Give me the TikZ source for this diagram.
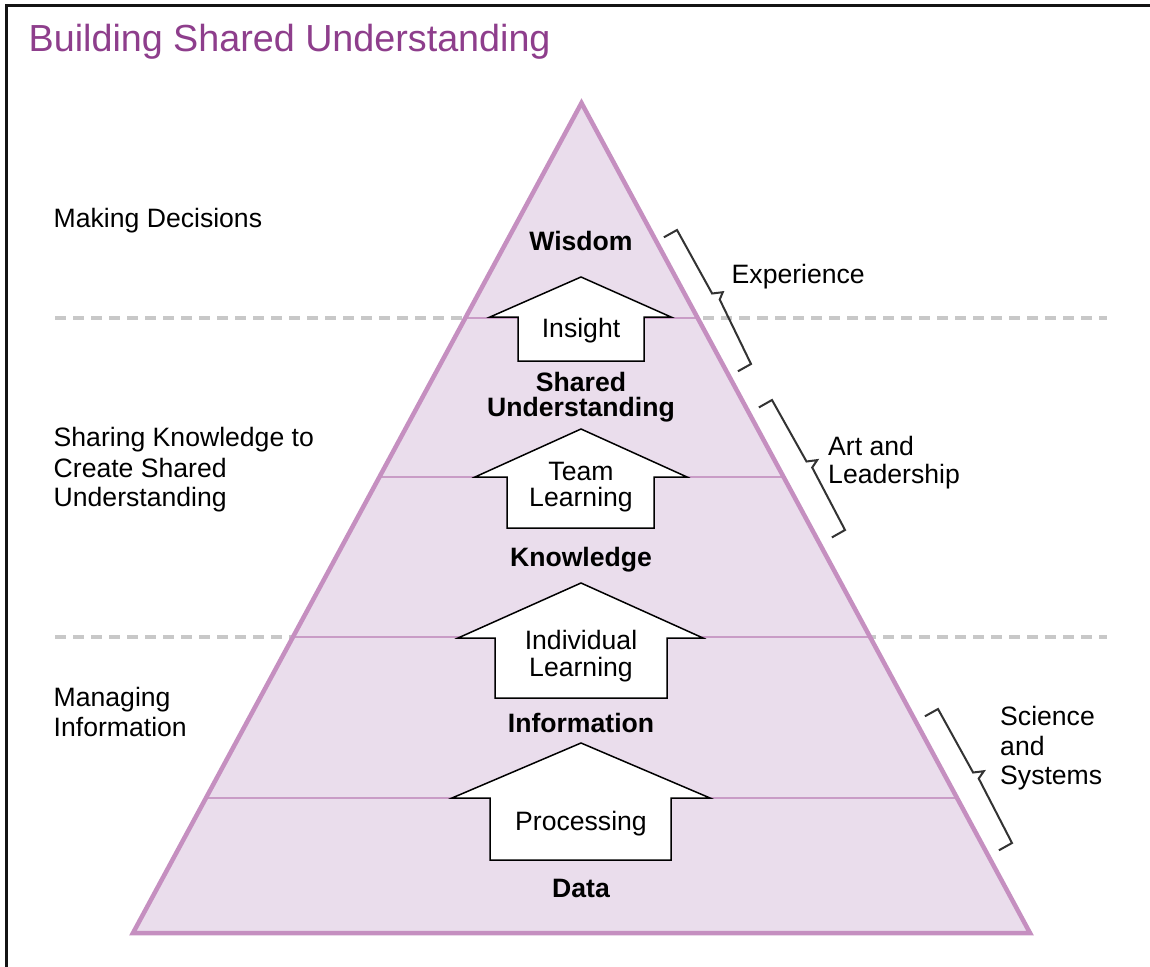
\documentclass[tikz,border=0pt]{standalone}
\usepackage{fontspec}
\setmainfont{Liberation Sans}
\usetikzlibrary{calc}
\definecolor{pyrline}{RGB}{197,143,192}
\definecolor{pyrfill}{RGB}{234,221,236}
\definecolor{tierline}{RGB}{201,156,198}
\definecolor{titlecol}{RGB}{142,62,140}
\definecolor{dashcol}{RGB}{200,200,200}
\definecolor{bracecol}{RGB}{51,51,51}
\begin{document}
\begin{tikzpicture}[x=1pt,y=-1pt,
  txt/.style={inner sep=0pt, anchor=base west, font=\fontsize{26.6}{30}\selectfont},
  lvl/.style={inner sep=0pt, anchor=base, font=\fontsize{26.6}{30}\selectfont\bfseries},
  arrtxt/.style={inner sep=0pt, anchor=base, font=\fontsize{26.6}{30}\selectfont},
  uparrow/.style={draw=black, fill=white, line width=1.5pt, line join=miter},
  bracket/.style={draw=bracecol, line width=2pt, line join=miter},
  sep/.style={draw=dashcol, line width=3.5pt, dash pattern=on 11pt off 7pt},
  tier/.style={draw=tierline, line width=1.5pt}]
\useasboundingbox (0,0) rectangle (1150,966);
\fill[white] (0,0) rectangle (1150,966);
% frame
\draw[line width=3pt, black!92] (6,970) -- (6,6) -- (1155,6);
% title
\node[anchor=base west, inner sep=0pt, text=titlecol, font=\fontsize{37.7}{40}\selectfont] (title) at (28.5,52) {Building Shared Understanding};
% dashed separators
\coordinate (s1a) at (55,318); \coordinate (s1b) at (1107,318);
\coordinate (s2a) at (55,637); \coordinate (s2b) at (1107,637);
\draw[sep] (s1a) -- (s1b);
\draw[sep] (s2a) -- (s2b);
% pyramid
\coordinate (apex) at (581.5,103);
\coordinate (bl) at (133,933);
\coordinate (br) at (1030,933);
\fill[pyrfill] (apex) -- (br) -- (bl) -- cycle;
\foreach \t [count=\i] in {0.2590,0.4506,0.6434,0.8373}
  \draw[tier] ($(apex)!\t!(bl)$) coordinate (L\i) -- ($(apex)!\t!(br)$) coordinate (R\i);
\draw[pyrline, line width=4.5pt, line join=miter] (apex) -- (br) -- (bl) -- cycle;
% arrows
\draw[uparrow] (581,277) -- (671,317) -- (644,317) -- (644,361) -- (518,361) -- (518,317) -- (490,317) -- cycle;
\draw[uparrow] (581,429) -- (687,477) -- (654,477) -- (654,528) -- (507,528) -- (507,477) -- (475,477) -- cycle;
\draw[uparrow] (581,583) -- (703,638) -- (667,638) -- (667,698) -- (495,698) -- (495,638) -- (458,638) -- cycle;
\draw[uparrow] (581,743) -- (710,798) -- (671,798) -- (671,860) -- (490,860) -- (490,798) -- (452,798) -- cycle;
% arrow labels
\node[arrtxt] (insight) at (581,337.3) {Insight};
\node[arrtxt] (team1) at (581,480) {Team};
\node[arrtxt] (team2) at (581,506.7) {Learning};
\node[arrtxt] (ind1) at (581,649) {Individual};
\node[arrtxt] (ind2) at (581,676) {Learning};
\node[arrtxt] (proc) at (581,830) {Processing};
% level labels
\node[lvl] (wisdom) at (581,250) {Wisdom};
\node[lvl] (shared1) at (581,391.7) {Shared};
\node[lvl] (shared2) at (581,416.7) {Understanding};
\node[lvl] (knowledge) at (581,566.7) {Knowledge};
\node[lvl] (information) at (581,732.3) {Information};
\node[lvl] (data) at (581,897) {Data};
% left labels
\node[txt] (ld) at (53.5,227) {Making Decisions};
\node[txt] (ls1) at (53.5,446.7) {Sharing Knowledge to};
\node[txt] (ls2) at (53.5,477) {Create Shared};
\node[txt] (ls3) at (53.5,506.7) {Understanding};
\node[txt] (lm1) at (53.5,706.7) {Managing};
\node[txt] (lm2) at (53.5,736.7) {Information};
% right labels
\node[txt] (rexp) at (731.5,283.3) {Experience};
\node[txt] (rart1) at (828,455) {Art and};
\node[txt] (rart2) at (828,483.3) {Leadership};
\node[txt] (rsci1) at (1000,725.7) {Science};
\node[txt] (rsci2) at (1000,755) {and};
\node[txt] (rsci3) at (1000,784.3) {Systems};
% brackets
\draw[bracket] (663.9,237.3) -- (677,230) -- (712.1,293.5) -- (722.8,292.2) -- (719.7,299.5) -- (751,364) -- (737.9,371.3);
\draw[bracket] (758.9,407.4) -- (772,400) -- (806.5,461.5) -- (817.2,460.1) -- (812.2,467.5) -- (845,530) -- (831.9,537.4);
\draw[bracket] (924.9,716.3) -- (938,709) -- (973.1,772.5) -- (983.8,771.2) -- (978.7,778.5) -- (1012,843) -- (998.9,850.3);
\end{tikzpicture}
\end{document}
